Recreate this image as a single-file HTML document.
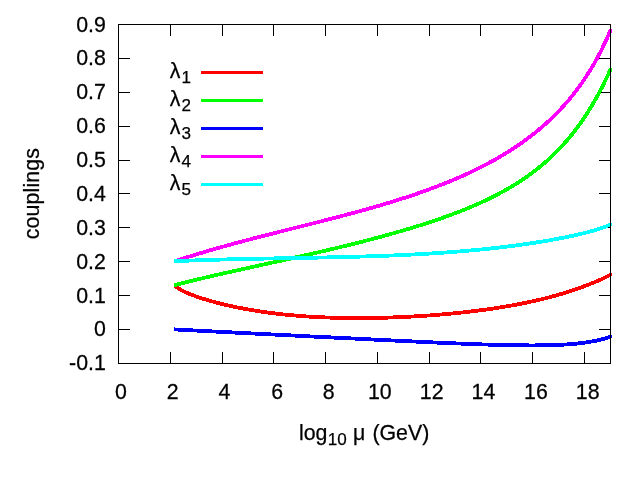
<!DOCTYPE html>
<html><head><meta charset="utf-8"><title>couplings</title>
<style>
html,body{margin:0;padding:0;background:#fff;}
svg{display:block;will-change:transform;}
text{font-family:"Liberation Sans",sans-serif;font-size:21.33px;fill:#000;}
.sub{font-size:17.07px;}
.t text{stroke:#000;stroke-width:0.25px;}
</style></head><body>
<svg width="640" height="480" viewBox="0 0 640 480">
<rect width="640" height="480" fill="#fff"/>
<g fill="#000" shape-rendering="crispEdges">
<rect x="118" y="329" width="12" height="1"/><rect x="599" y="329" width="12" height="1"/>
<rect x="118" y="295" width="12" height="1"/><rect x="599" y="295" width="12" height="1"/>
<rect x="118" y="261" width="12" height="1"/><rect x="599" y="261" width="12" height="1"/>
<rect x="118" y="227" width="12" height="1"/><rect x="599" y="227" width="12" height="1"/>
<rect x="118" y="193" width="12" height="1"/><rect x="599" y="193" width="12" height="1"/>
<rect x="118" y="160" width="12" height="1"/><rect x="599" y="160" width="12" height="1"/>
<rect x="118" y="126" width="12" height="1"/><rect x="599" y="126" width="12" height="1"/>
<rect x="118" y="92" width="12" height="1"/><rect x="599" y="92" width="12" height="1"/>
<rect x="118" y="58" width="12" height="1"/><rect x="599" y="58" width="12" height="1"/>
<rect x="170" y="24" width="1" height="12"/><rect x="170" y="352" width="1" height="12"/>
<rect x="222" y="24" width="1" height="12"/><rect x="222" y="352" width="1" height="12"/>
<rect x="273" y="24" width="1" height="12"/><rect x="273" y="352" width="1" height="12"/>
<rect x="325" y="24" width="1" height="12"/><rect x="325" y="352" width="1" height="12"/>
<rect x="377" y="24" width="1" height="12"/><rect x="377" y="352" width="1" height="12"/>
<rect x="429" y="24" width="1" height="12"/><rect x="429" y="352" width="1" height="12"/>
<rect x="480" y="24" width="1" height="12"/><rect x="480" y="352" width="1" height="12"/>
<rect x="532" y="24" width="1" height="12"/><rect x="532" y="352" width="1" height="12"/>
<rect x="584" y="24" width="1" height="12"/><rect x="584" y="352" width="1" height="12"/>
</g>
<clipPath id="cc"><rect x="174" y="0" width="466" height="480"/></clipPath>
<g fill="none" stroke-width="3.8" stroke-linejoin="round" stroke-linecap="round" clip-path="url(#cc)" shape-rendering="crispEdges">
<path d="M172.5,283.62 L174.5,285.33 L177.5,287.78 L180.5,289.66 L183.5,291.25 L186.5,292.64 L189.5,293.91 L192.5,295.09 L195.5,296.19 L198.5,297.23 L201.5,298.22 L204.5,299.17 L207.5,300.07 L210.5,300.94 L213.5,301.78 L216.5,302.58 L219.5,303.36 L222.5,304.1 L225.5,304.82 L228.5,305.51 L231.5,306.18 L234.5,306.83 L237.5,307.45 L240.5,308.05 L243.5,308.62 L246.5,309.18 L249.5,309.71 L252.5,310.22 L255.5,310.72 L258.5,311.19 L261.5,311.64 L264.5,312.08 L267.5,312.5 L270.5,312.9 L273.5,313.28 L276.5,313.64 L279.5,313.99 L282.5,314.32 L285.5,314.64 L288.5,314.94 L291.5,315.22 L294.5,315.49 L297.5,315.75 L300.5,315.99 L303.5,316.21 L306.5,316.42 L309.5,316.62 L312.5,316.8 L315.5,316.97 L318.5,317.13 L321.5,317.27 L324.5,317.41 L327.5,317.53 L330.5,317.63 L333.5,317.73 L336.5,317.81 L339.5,317.88 L342.5,317.95 L345.5,318 L348.5,318.03 L351.5,318.06 L354.5,318.08 L357.5,318.09 L360.5,318.08 L363.5,318.07 L366.5,318.05 L369.5,318.01 L372.5,317.97 L375.5,317.92 L378.5,317.86 L381.5,317.79 L384.5,317.71 L387.5,317.62 L390.5,317.52 L393.5,317.41 L396.5,317.29 L399.5,317.17 L402.5,317.03 L405.5,316.89 L408.5,316.73 L411.5,316.57 L414.5,316.4 L417.5,316.22 L420.5,316.03 L423.5,315.84 L426.5,315.63 L429.5,315.42 L432.5,315.19 L435.5,314.96 L438.5,314.72 L441.5,314.46 L444.5,314.2 L447.5,313.93 L450.5,313.65 L453.5,313.36 L456.5,313.06 L459.5,312.75 L462.5,312.43 L465.5,312.1 L468.5,311.75 L471.5,311.4 L474.5,311.04 L477.5,310.66 L480.5,310.27 L483.5,309.87 L486.5,309.46 L489.5,309.04 L492.5,308.6 L495.5,308.15 L498.5,307.68 L501.5,307.2 L504.5,306.71 L507.5,306.2 L510.5,305.68 L513.5,305.14 L516.5,304.58 L519.5,304.01 L522.5,303.42 L525.5,302.81 L528.5,302.18 L531.5,301.54 L534.5,300.87 L537.5,300.18 L540.5,299.47 L543.5,298.74 L546.5,297.99 L549.5,297.22 L552.5,296.42 L555.5,295.59 L558.5,294.74 L560,294.31 L561,294.01 L562,293.71 L563,293.41 L564,293.11 L565,292.8 L566,292.5 L567,292.18 L568,291.87 L569,291.55 L570,291.23 L571,290.9 L572,290.57 L573,290.24 L574,289.9 L575,289.56 L576,289.22 L577,288.87 L578,288.52 L579,288.17 L580,287.81 L581,287.45 L582,287.08 L583,286.71 L584,286.34 L585,285.96 L586,285.58 L587,285.2 L588,284.81 L589,284.42 L590,284.02 L591,283.62 L592,283.21 L593,282.8 L594,282.39 L595,281.97 L596,281.55 L597,281.12 L598,280.69 L599,280.25 L600,279.81 L601,279.37 L602,278.92 L603,278.46 L604,278 L605,277.54 L606,277.07 L607,276.59 L608,276.11 L609,275.63 L610,275.14 L610.5,274.89" stroke="#ff0000"/>
<path d="M172.5,285.76 L174.5,285.23 L177.5,284.45 L180.5,283.67 L183.5,282.9 L186.5,282.14 L189.5,281.39 L192.5,280.65 L195.5,279.92 L198.5,279.19 L201.5,278.47 L204.5,277.76 L207.5,277.05 L210.5,276.35 L213.5,275.65 L216.5,274.96 L219.5,274.27 L222.5,273.59 L225.5,272.91 L228.5,272.24 L231.5,271.57 L234.5,270.9 L237.5,270.23 L240.5,269.57 L243.5,268.9 L246.5,268.24 L249.5,267.58 L252.5,266.92 L255.5,266.27 L258.5,265.61 L261.5,264.95 L264.5,264.3 L267.5,263.64 L270.5,262.98 L273.5,262.33 L276.5,261.67 L279.5,261.01 L282.5,260.35 L285.5,259.68 L288.5,259.02 L291.5,258.35 L294.5,257.68 L297.5,257.01 L300.5,256.34 L303.5,255.66 L306.5,254.99 L309.5,254.3 L312.5,253.62 L315.5,252.93 L318.5,252.24 L321.5,251.54 L324.5,250.84 L327.5,250.14 L330.5,249.43 L333.5,248.72 L336.5,248 L339.5,247.28 L342.5,246.55 L345.5,245.82 L348.5,245.08 L351.5,244.34 L354.5,243.59 L357.5,242.83 L360.5,242.07 L363.5,241.31 L366.5,240.53 L369.5,239.75 L372.5,238.96 L375.5,238.17 L378.5,237.37 L381.5,236.56 L384.5,235.74 L387.5,234.91 L390.5,234.08 L393.5,233.23 L396.5,232.38 L399.5,231.52 L402.5,230.65 L405.5,229.77 L408.5,228.87 L411.5,227.97 L414.5,227.05 L417.5,226.13 L420.5,225.19 L423.5,224.23 L426.5,223.27 L429.5,222.29 L432.5,221.29 L435.5,220.28 L438.5,219.26 L441.5,218.22 L444.5,217.16 L447.5,216.08 L450.5,214.98 L453.5,213.86 L456.5,212.73 L459.5,211.57 L462.5,210.39 L465.5,209.18 L468.5,207.95 L471.5,206.69 L474.5,205.41 L477.5,204.09 L480.5,202.75 L483.5,201.37 L486.5,199.96 L489.5,198.52 L492.5,197.03 L495.5,195.51 L498.5,193.95 L501.5,192.34 L504.5,190.69 L507.5,188.99 L510.5,187.25 L513.5,185.44 L516.5,183.59 L519.5,181.67 L522.5,179.69 L525.5,177.65 L528.5,175.54 L531.5,173.35 L534.5,171.09 L537.5,168.75 L540.5,166.32 L543.5,163.81 L546.5,161.2 L549.5,158.49 L552.5,155.67 L555.5,152.75 L558.5,149.7 L560,148.14 L561,147.07 L562,145.99 L563,144.9 L564,143.8 L565,142.67 L566,141.54 L567,140.38 L568,139.21 L569,138.03 L570,136.82 L571,135.6 L572,134.37 L573,133.11 L574,131.84 L575,130.55 L576,129.24 L577,127.91 L578,126.56 L579,125.19 L580,123.8 L581,122.4 L582,120.97 L583,119.51 L584,118.04 L585,116.55 L586,115.03 L587,113.49 L588,111.92 L589,110.33 L590,108.72 L591,107.08 L592,105.42 L593,103.73 L594,102.02 L595,100.28 L596,98.51 L597,96.71 L598,94.88 L599,93.03 L600,91.14 L601,89.23 L602,87.28 L603,85.3 L604,83.29 L605,81.25 L606,79.18 L607,77.07 L608,74.92 L609,72.74 L610,70.53 L610.5,69.4" stroke="#00ff00"/>
<path d="M172.5,329.3 L174.5,329.41 L177.5,329.57 L180.5,329.73 L183.5,329.89 L186.5,330.05 L189.5,330.21 L192.5,330.37 L195.5,330.53 L198.5,330.69 L201.5,330.85 L204.5,331.01 L207.5,331.16 L210.5,331.32 L213.5,331.48 L216.5,331.63 L219.5,331.79 L222.5,331.94 L225.5,332.1 L228.5,332.25 L231.5,332.41 L234.5,332.56 L237.5,332.72 L240.5,332.87 L243.5,333.02 L246.5,333.18 L249.5,333.33 L252.5,333.48 L255.5,333.63 L258.5,333.79 L261.5,333.94 L264.5,334.09 L267.5,334.24 L270.5,334.39 L273.5,334.55 L276.5,334.7 L279.5,334.85 L282.5,335 L285.5,335.15 L288.5,335.3 L291.5,335.45 L294.5,335.6 L297.5,335.75 L300.5,335.91 L303.5,336.06 L306.5,336.21 L309.5,336.36 L312.5,336.51 L315.5,336.66 L318.5,336.81 L321.5,336.96 L324.5,337.11 L327.5,337.26 L330.5,337.41 L333.5,337.56 L336.5,337.71 L339.5,337.86 L342.5,338.01 L345.5,338.16 L348.5,338.31 L351.5,338.46 L354.5,338.6 L357.5,338.75 L360.5,338.9 L363.5,339.05 L366.5,339.2 L369.5,339.35 L372.5,339.5 L375.5,339.65 L378.5,339.79 L381.5,339.94 L384.5,340.09 L387.5,340.24 L390.5,340.38 L393.5,340.53 L396.5,340.67 L399.5,340.82 L402.5,340.96 L405.5,341.11 L408.5,341.25 L411.5,341.4 L414.5,341.54 L417.5,341.68 L420.5,341.82 L423.5,341.96 L426.5,342.1 L429.5,342.24 L432.5,342.38 L435.5,342.51 L438.5,342.65 L441.5,342.78 L444.5,342.92 L447.5,343.05 L450.5,343.18 L453.5,343.3 L456.5,343.43 L459.5,343.55 L462.5,343.68 L465.5,343.8 L468.5,343.91 L471.5,344.03 L474.5,344.14 L477.5,344.25 L480.5,344.36 L483.5,344.46 L486.5,344.56 L489.5,344.65 L492.5,344.75 L495.5,344.83 L498.5,344.92 L501.5,344.99 L504.5,345.07 L507.5,345.13 L510.5,345.19 L513.5,345.25 L516.5,345.3 L519.5,345.34 L522.5,345.37 L525.5,345.39 L528.5,345.41 L531.5,345.41 L534.5,345.41 L537.5,345.39 L540.5,345.36 L543.5,345.32 L546.5,345.26 L549.5,345.19 L552.5,345.1 L555.5,344.99 L558.5,344.87 L560,344.8 L561,344.75 L562,344.7 L563,344.64 L564,344.58 L565,344.52 L566,344.46 L567,344.39 L568,344.33 L569,344.25 L570,344.18 L571,344.1 L572,344.02 L573,343.93 L574,343.84 L575,343.75 L576,343.66 L577,343.56 L578,343.45 L579,343.34 L580,343.23 L581,343.11 L582,342.99 L583,342.87 L584,342.74 L585,342.6 L586,342.46 L587,342.32 L588,342.16 L589,342.01 L590,341.84 L591,341.67 L592,341.5 L593,341.32 L594,341.13 L595,340.93 L596,340.73 L597,340.52 L598,340.3 L599,340.07 L600,339.84 L601,339.59 L602,339.34 L603,339.08 L604,338.81 L605,338.52 L606,338.23 L607,337.93 L608,337.61 L609,337.28 L610,336.94 L610.5,336.77" stroke="#0000ff"/>
<path d="M172.5,262.01 L174.5,261.34 L177.5,260.36 L180.5,259.38 L183.5,258.41 L186.5,257.46 L189.5,256.51 L192.5,255.58 L195.5,254.66 L198.5,253.75 L201.5,252.84 L204.5,251.95 L207.5,251.07 L210.5,250.19 L213.5,249.32 L216.5,248.47 L219.5,247.62 L222.5,246.77 L225.5,245.94 L228.5,245.11 L231.5,244.29 L234.5,243.47 L237.5,242.66 L240.5,241.86 L243.5,241.06 L246.5,240.26 L249.5,239.48 L252.5,238.69 L255.5,237.91 L258.5,237.14 L261.5,236.36 L264.5,235.6 L267.5,234.83 L270.5,234.07 L273.5,233.31 L276.5,232.55 L279.5,231.79 L282.5,231.04 L285.5,230.28 L288.5,229.53 L291.5,228.78 L294.5,228.03 L297.5,227.27 L300.5,226.52 L303.5,225.77 L306.5,225.02 L309.5,224.26 L312.5,223.5 L315.5,222.75 L318.5,221.99 L321.5,221.22 L324.5,220.46 L327.5,219.69 L330.5,218.92 L333.5,218.14 L336.5,217.36 L339.5,216.58 L342.5,215.79 L345.5,215 L348.5,214.2 L351.5,213.39 L354.5,212.58 L357.5,211.77 L360.5,210.94 L363.5,210.11 L366.5,209.27 L369.5,208.43 L372.5,207.57 L375.5,206.71 L378.5,205.84 L381.5,204.96 L384.5,204.07 L387.5,203.17 L390.5,202.26 L393.5,201.33 L396.5,200.4 L399.5,199.45 L402.5,198.5 L405.5,197.52 L408.5,196.54 L411.5,195.54 L414.5,194.53 L417.5,193.5 L420.5,192.46 L423.5,191.4 L426.5,190.33 L429.5,189.23 L432.5,188.12 L435.5,187 L438.5,185.85 L441.5,184.68 L444.5,183.5 L447.5,182.29 L450.5,181.06 L453.5,179.81 L456.5,178.53 L459.5,177.23 L462.5,175.91 L465.5,174.55 L468.5,173.18 L471.5,171.77 L474.5,170.33 L477.5,168.87 L480.5,167.37 L483.5,165.84 L486.5,164.28 L489.5,162.68 L492.5,161.04 L495.5,159.37 L498.5,157.66 L501.5,155.9 L504.5,154.1 L507.5,152.26 L510.5,150.37 L513.5,148.42 L516.5,146.43 L519.5,144.39 L522.5,142.28 L525.5,140.12 L528.5,137.89 L531.5,135.6 L534.5,133.24 L537.5,130.81 L540.5,128.3 L543.5,125.71 L546.5,123.04 L549.5,120.27 L552.5,117.41 L555.5,114.45 L558.5,111.38 L560,109.8 L561,108.74 L562,107.65 L563,106.56 L564,105.45 L565,104.33 L566,103.19 L567,102.04 L568,100.87 L569,99.69 L570,98.49 L571,97.27 L572,96.04 L573,94.79 L574,93.53 L575,92.24 L576,90.94 L577,89.62 L578,88.28 L579,86.92 L580,85.54 L581,84.14 L582,82.71 L583,81.27 L584,79.81 L585,78.32 L586,76.8 L587,75.27 L588,73.71 L589,72.12 L590,70.51 L591,68.87 L592,67.2 L593,65.51 L594,63.79 L595,62.03 L596,60.25 L597,58.43 L598,56.59 L599,54.7 L600,52.79 L601,50.84 L602,48.85 L603,46.82 L604,44.76 L605,42.65 L606,40.5 L607,38.31 L608,36.08 L609,33.8 L610,31.47 L610.5,30.29" stroke="#ff00ff"/>
<path d="M172.5,261.32 L174.5,261.23 L177.5,261.1 L180.5,260.97 L183.5,260.84 L186.5,260.72 L189.5,260.6 L192.5,260.49 L195.5,260.38 L198.5,260.27 L201.5,260.17 L204.5,260.07 L207.5,259.97 L210.5,259.88 L213.5,259.79 L216.5,259.7 L219.5,259.61 L222.5,259.53 L225.5,259.45 L228.5,259.37 L231.5,259.3 L234.5,259.23 L237.5,259.15 L240.5,259.09 L243.5,259.02 L246.5,258.95 L249.5,258.89 L252.5,258.83 L255.5,258.77 L258.5,258.71 L261.5,258.65 L264.5,258.59 L267.5,258.53 L270.5,258.48 L273.5,258.42 L276.5,258.37 L279.5,258.31 L282.5,258.26 L285.5,258.21 L288.5,258.15 L291.5,258.1 L294.5,258.04 L297.5,257.99 L300.5,257.94 L303.5,257.88 L306.5,257.83 L309.5,257.77 L312.5,257.71 L315.5,257.65 L318.5,257.59 L321.5,257.53 L324.5,257.47 L327.5,257.41 L330.5,257.35 L333.5,257.28 L336.5,257.21 L339.5,257.14 L342.5,257.07 L345.5,257 L348.5,256.92 L351.5,256.84 L354.5,256.76 L357.5,256.68 L360.5,256.59 L363.5,256.5 L366.5,256.41 L369.5,256.31 L372.5,256.21 L375.5,256.11 L378.5,256.01 L381.5,255.9 L384.5,255.79 L387.5,255.67 L390.5,255.55 L393.5,255.43 L396.5,255.3 L399.5,255.17 L402.5,255.03 L405.5,254.89 L408.5,254.74 L411.5,254.59 L414.5,254.44 L417.5,254.28 L420.5,254.11 L423.5,253.94 L426.5,253.76 L429.5,253.58 L432.5,253.39 L435.5,253.2 L438.5,253 L441.5,252.8 L444.5,252.59 L447.5,252.37 L450.5,252.15 L453.5,251.92 L456.5,251.68 L459.5,251.44 L462.5,251.19 L465.5,250.93 L468.5,250.67 L471.5,250.4 L474.5,250.12 L477.5,249.83 L480.5,249.54 L483.5,249.23 L486.5,248.92 L489.5,248.61 L492.5,248.28 L495.5,247.95 L498.5,247.6 L501.5,247.25 L504.5,246.89 L507.5,246.52 L510.5,246.14 L513.5,245.75 L516.5,245.35 L519.5,244.94 L522.5,244.53 L525.5,244.1 L528.5,243.66 L531.5,243.21 L534.5,242.75 L537.5,242.27 L540.5,241.79 L543.5,241.29 L546.5,240.79 L549.5,240.27 L552.5,239.73 L555.5,239.18 L558.5,238.62 L560,238.33 L561,238.14 L562,237.95 L563,237.75 L564,237.55 L565,237.35 L566,237.15 L567,236.94 L568,236.74 L569,236.53 L570,236.32 L571,236.11 L572,235.89 L573,235.68 L574,235.46 L575,235.24 L576,235.01 L577,234.79 L578,234.56 L579,234.33 L580,234.09 L581,233.86 L582,233.62 L583,233.37 L584,233.13 L585,232.88 L586,232.63 L587,232.37 L588,232.11 L589,231.85 L590,231.58 L591,231.31 L592,231.03 L593,230.75 L594,230.46 L595,230.17 L596,229.87 L597,229.56 L598,229.25 L599,228.93 L600,228.6 L601,228.26 L602,227.92 L603,227.56 L604,227.19 L605,226.8 L606,226.4 L607,225.98 L608,225.55 L609,225.09 L610,224.6 L610.5,224.35" stroke="#00ffff"/>
</g>
<g shape-rendering="crispEdges">
<rect x="201" y="71" width="62" height="3" fill="#ff0000"/>
<rect x="201" y="99" width="62" height="3" fill="#00ff00"/>
<rect x="201" y="127" width="62" height="3" fill="#0000ff"/>
<rect x="201" y="155" width="62" height="3" fill="#ff00ff"/>
<rect x="201" y="183" width="62" height="3" fill="#00ffff"/>
</g>
<g fill="#000" shape-rendering="crispEdges">
<rect x="118" y="24" width="493" height="1"/><rect x="118" y="363" width="493" height="1"/><rect x="118" y="24" width="1" height="340"/><rect x="610" y="24" width="1" height="340"/>
</g>
<g class="t">
<g text-anchor="end">
<text transform="translate(105.85,370.15) scale(1,1.07)">-0.1</text>
<text transform="translate(105.85,336.15) scale(1,1.07)">0</text>
<text transform="translate(105.85,303.15) scale(1,1.07)">0.1</text>
<text transform="translate(105.85,269.15) scale(1,1.07)">0.2</text>
<text transform="translate(105.85,235.15) scale(1,1.07)">0.3</text>
<text transform="translate(105.85,201.15) scale(1,1.07)">0.4</text>
<text transform="translate(105.85,167.15) scale(1,1.07)">0.5</text>
<text transform="translate(105.85,133.15) scale(1,1.07)">0.6</text>
<text transform="translate(105.85,99.15) scale(1,1.07)">0.7</text>
<text transform="translate(105.85,65.15) scale(1,1.07)">0.8</text>
<text transform="translate(105.85,32.15) scale(1,1.07)">0.9</text>
</g>
<g text-anchor="middle">
<text transform="translate(120.90,398.8) scale(1,1.07)">0</text>
<text transform="translate(172.69,398.8) scale(1,1.07)">2</text>
<text transform="translate(224.48,398.8) scale(1,1.07)">4</text>
<text transform="translate(277.07,398.8) scale(1,1.07)">6</text>
<text transform="translate(328.66,398.8) scale(1,1.07)">8</text>
<text transform="translate(379.85,398.8) scale(1,1.07)">10</text>
<text transform="translate(431.64,398.8) scale(1,1.07)">12</text>
<text transform="translate(483.43,398.8) scale(1,1.07)">14</text>
<text transform="translate(535.92,398.8) scale(1,1.07)">16</text>
<text transform="translate(587.71,398.8) scale(1,1.07)">18</text>
</g>
<text x="169.8" y="78.0">λ<tspan class="sub" dx="1" dy="5.2">1</tspan></text>
<text x="169.8" y="106.0">λ<tspan class="sub" dx="1" dy="5.2">2</tspan></text>
<text x="169.8" y="134.0">λ<tspan class="sub" dx="1" dy="5.2">3</tspan></text>
<text x="169.8" y="162.0">λ<tspan class="sub" dx="1" dy="5.2">4</tspan></text>
<text x="169.8" y="190.0">λ<tspan class="sub" dx="1" dy="5.2">5</tspan></text>
<text x="298.9" y="440">log<tspan class="sub" dx="0.3" dy="4.5">10</tspan><tspan dx="0.4" dy="-4.5"> μ </tspan></text>
<text x="372.39" y="440">(</text>
<text transform="translate(379.50,440) scale(1,1.06)">G</text>
<text x="396.09" y="440">e</text>
<text transform="translate(407.95,440) scale(1,1.06)">V</text>
<text x="422.18" y="440">)</text>
<text transform="translate(38.7,239.3) rotate(-90)" textLength="91.3" lengthAdjust="spacing">couplings</text>
</g>
</svg>
</body></html>
